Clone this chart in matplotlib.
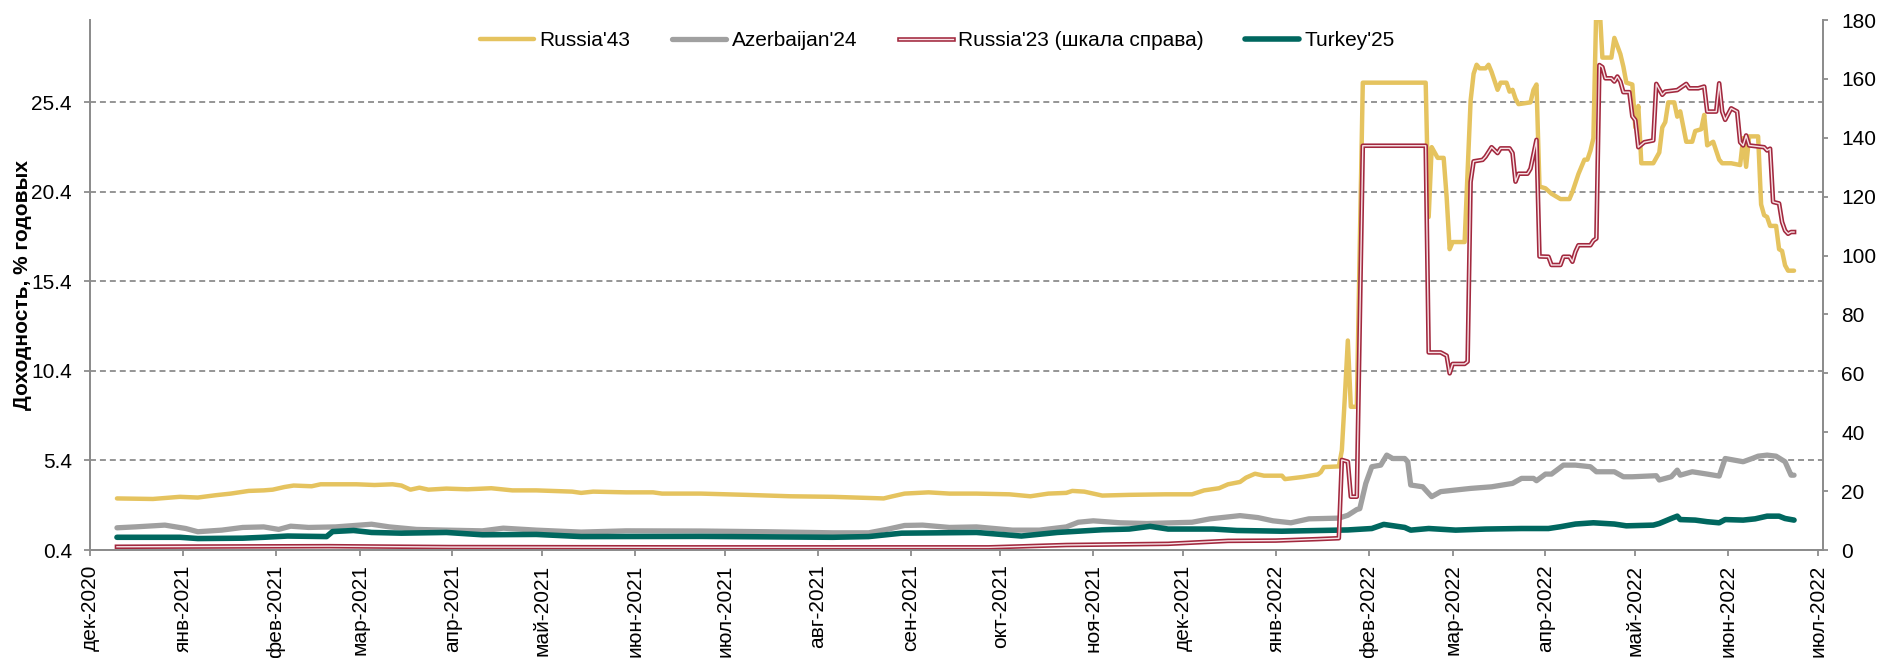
import matplotlib
matplotlib.use('Agg')
import matplotlib.pyplot as plt
import matplotlib.patheffects as pe
import pandas as pd

plt.rcParams['font.family'] = ['Liberation Sans', 'DejaVu Sans']
plt.rcParams['font.size'] = 15

# доходности, левая шкала (% годовых)
russia43 = [
    ('2020-12-10', 3.28), ('2020-12-22', 3.25), ('2020-12-31', 3.37), ('2021-01-06', 3.33),
    ('2021-01-12', 3.46), ('2021-01-17', 3.55), ('2021-01-23', 3.70), ('2021-01-28', 3.73),
    ('2021-01-31', 3.77), ('2021-02-04', 3.92), ('2021-02-07', 4.00), ('2021-02-13', 3.96),
    ('2021-02-16', 4.07), ('2021-02-28', 4.07), ('2021-03-06', 4.03), ('2021-03-12', 4.07),
    ('2021-03-15', 4.00), ('2021-03-18', 3.77), ('2021-03-21', 3.88), ('2021-03-24', 3.77),
    ('2021-03-30', 3.83), ('2021-04-06', 3.79), ('2021-04-14', 3.85), ('2021-04-21', 3.73),
    ('2021-04-29', 3.73), ('2021-05-11', 3.66), ('2021-05-14', 3.59), ('2021-05-18', 3.66),
    ('2021-05-29', 3.62), ('2021-06-07', 3.62), ('2021-06-10', 3.55), ('2021-06-23', 3.55),
    ('2021-07-08', 3.48), ('2021-07-23', 3.40), ('2021-08-06', 3.37), ('2021-08-18', 3.31),
    ('2021-08-23', 3.28), ('2021-08-26', 3.40), ('2021-08-30', 3.55), ('2021-09-07', 3.62),
    ('2021-09-14', 3.55), ('2021-09-23', 3.55), ('2021-10-04', 3.51), ('2021-10-11', 3.40),
    ('2021-10-17', 3.55), ('2021-10-23', 3.59), ('2021-10-25', 3.70), ('2021-10-29', 3.66),
    ('2021-11-04', 3.44), ('2021-11-13', 3.48), ('2021-11-25', 3.51), ('2021-12-04', 3.51),
    ('2021-12-08', 3.73), ('2021-12-13', 3.85), ('2021-12-16', 4.07), ('2021-12-20', 4.20),
    ('2021-12-22', 4.44), ('2021-12-25', 4.66), ('2021-12-28', 4.55), ('2022-01-03', 4.55),
    ('2022-01-04', 4.36), ('2022-01-10', 4.48), ('2022-01-15', 4.62), ('2022-01-16', 4.75),
    ('2022-01-17', 5.03), ('2022-01-22', 5.07), ('2022-01-23', 5.96), ('2022-01-24', 8.93),
    ('2022-01-25', 12.1), ('2022-01-26', 8.4), ('2022-01-28', 8.4), ('2022-01-30', 26.5),
    ('2022-02-20', 26.5), ('2022-02-21', 19.0), ('2022-02-22', 22.9), ('2022-02-24', 22.3),
    ('2022-02-26', 22.3), ('2022-02-27', 20.1), ('2022-02-28', 17.2), ('2022-03-01', 17.6),
    ('2022-03-05', 17.6), ('2022-03-06', 21.5), ('2022-03-07', 25.5), ('2022-03-08', 27.0),
    ('2022-03-09', 27.5), ('2022-03-10', 27.3), ('2022-03-12', 27.3), ('2022-03-13', 27.5),
    ('2022-03-14', 27.1), ('2022-03-16', 26.1), ('2022-03-17', 26.5), ('2022-03-19', 26.5),
    ('2022-03-20', 26.0), ('2022-03-21', 26.1), ('2022-03-22', 25.6), ('2022-03-23', 25.3),
    ('2022-03-27', 25.4), ('2022-03-28', 26.1), ('2022-03-29', 26.4), ('2022-03-30', 20.7),
    ('2022-04-01', 20.6), ('2022-04-03', 20.3), ('2022-04-04', 20.2), ('2022-04-06', 20.0),
    ('2022-04-09', 20.0), ('2022-04-10', 20.4), ('2022-04-11', 20.9), ('2022-04-12', 21.4),
    ('2022-04-14', 22.2), ('2022-04-15', 22.2), ('2022-04-16', 22.7), ('2022-04-17', 23.4),
    ('2022-04-18', 31.0), ('2022-04-19', 31.0), ('2022-04-20', 27.9), ('2022-04-23', 27.9),
    ('2022-04-24', 29.0), ('2022-04-26', 28.1), ('2022-04-27', 27.4), ('2022-04-28', 26.5),
    ('2022-04-30', 26.4), ('2022-05-01', 24.0), ('2022-05-02', 25.2), ('2022-05-03', 22.0),
    ('2022-05-07', 22.0), ('2022-05-09', 22.6), ('2022-05-10', 24.0), ('2022-05-11', 24.3),
    ('2022-05-12', 25.4), ('2022-05-14', 25.4), ('2022-05-15', 24.6), ('2022-05-16', 24.9),
    ('2022-05-18', 23.2), ('2022-05-20', 23.2), ('2022-05-21', 23.8), ('2022-05-23', 23.9),
    ('2022-05-24', 24.7), ('2022-05-25', 23.0), ('2022-05-27', 23.2), ('2022-05-29', 22.2),
    ('2022-05-30', 22.0), ('2022-06-02', 22.0), ('2022-06-05', 21.9), ('2022-06-06', 23.4),
    ('2022-06-07', 21.8), ('2022-06-08', 23.5), ('2022-06-11', 23.5), ('2022-06-12', 19.7),
    ('2022-06-13', 19.1), ('2022-06-14', 19.0), ('2022-06-15', 18.5), ('2022-06-17', 18.5),
    ('2022-06-18', 17.2), ('2022-06-19', 17.1), ('2022-06-20', 16.3), ('2022-06-21', 16.0),
    ('2022-06-23', 16.0),
]

azerbaijan24 = [
    ('2020-12-10', 1.64), ('2020-12-16', 1.69), ('2020-12-26', 1.79), ('2021-01-02', 1.60),
    ('2021-01-06', 1.42), ('2021-01-14', 1.51), ('2021-01-21', 1.66), ('2021-01-28', 1.69),
    ('2021-02-02', 1.55), ('2021-02-06', 1.73), ('2021-02-12', 1.66), ('2021-02-21', 1.69),
    ('2021-03-05', 1.84), ('2021-03-11', 1.69), ('2021-03-20', 1.55), ('2021-03-30', 1.51),
    ('2021-04-11', 1.47), ('2021-04-18', 1.62), ('2021-04-29', 1.51), ('2021-05-14', 1.40),
    ('2021-05-29', 1.47), ('2021-06-23', 1.46), ('2021-07-15', 1.42), ('2021-08-06', 1.36),
    ('2021-08-18', 1.36), ('2021-08-24', 1.55), ('2021-08-30', 1.77), ('2021-09-05', 1.79),
    ('2021-09-14', 1.66), ('2021-09-23', 1.69), ('2021-10-05', 1.51), ('2021-10-14', 1.51),
    ('2021-10-23', 1.69), ('2021-10-27', 1.95), ('2021-11-01', 2.03), ('2021-11-10', 1.92),
    ('2021-11-19', 1.88), ('2021-12-04', 1.95), ('2021-12-10', 2.14), ('2021-12-20', 2.32),
    ('2021-12-26', 2.21), ('2021-12-31', 2.03), ('2022-01-06', 1.92), ('2022-01-12', 2.14),
    ('2022-01-22', 2.18), ('2022-01-25', 2.34), ('2022-01-28', 2.66), ('2022-01-29', 2.71),
    ('2022-01-31', 4.12), ('2022-02-02', 5.05), ('2022-02-05', 5.14), ('2022-02-07', 5.70),
    ('2022-02-09', 5.51), ('2022-02-13', 5.51), ('2022-02-14', 5.33), ('2022-02-15', 4.03),
    ('2022-02-19', 3.93), ('2022-02-21', 3.56), ('2022-02-22', 3.38), ('2022-02-25', 3.66),
    ('2022-03-02', 3.75), ('2022-03-07', 3.84), ('2022-03-14', 3.93), ('2022-03-21', 4.12),
    ('2022-03-24', 4.40), ('2022-03-28', 4.40), ('2022-03-29', 4.27), ('2022-04-01', 4.64),
    ('2022-04-03', 4.64), ('2022-04-07', 5.14), ('2022-04-11', 5.14), ('2022-04-16', 5.05),
    ('2022-04-18', 4.77), ('2022-04-24', 4.77), ('2022-04-27', 4.49), ('2022-04-30', 4.49),
    ('2022-05-08', 4.55), ('2022-05-09', 4.31), ('2022-05-13', 4.49), ('2022-05-15', 4.86),
    ('2022-05-16', 4.58), ('2022-05-20', 4.77), ('2022-05-25', 4.64), ('2022-05-29', 4.53),
    ('2022-05-31', 5.51), ('2022-06-03', 5.42), ('2022-06-06', 5.33), ('2022-06-09', 5.51),
    ('2022-06-11', 5.64), ('2022-06-14', 5.70), ('2022-06-17', 5.64), ('2022-06-20', 5.33),
    ('2022-06-22', 4.58), ('2022-06-23', 4.58),
]

turkey25 = [
    ('2020-12-10', 1.11), ('2020-12-31', 1.11), ('2021-01-06', 1.04), ('2021-01-21', 1.06),
    ('2021-01-28', 1.11), ('2021-02-05', 1.18), ('2021-02-18', 1.15), ('2021-02-20', 1.43),
    ('2021-02-27', 1.49), ('2021-03-05', 1.38), ('2021-03-15', 1.34), ('2021-03-30', 1.38),
    ('2021-04-11', 1.25), ('2021-04-29', 1.27), ('2021-05-14', 1.15), ('2021-06-23', 1.16),
    ('2021-08-06', 1.11), ('2021-08-18', 1.15), ('2021-08-29', 1.34), ('2021-09-23', 1.38),
    ('2021-10-08', 1.18), ('2021-10-20', 1.38), ('2021-11-04', 1.53), ('2021-11-13', 1.57),
    ('2021-11-20', 1.72), ('2021-11-26', 1.57), ('2021-12-11', 1.57), ('2021-12-19', 1.49),
    ('2022-01-03', 1.45), ('2022-01-25', 1.52), ('2022-02-02', 1.60), ('2022-02-06', 1.83),
    ('2022-02-13', 1.66), ('2022-02-15', 1.51), ('2022-02-21', 1.60), ('2022-03-02', 1.51),
    ('2022-03-12', 1.57), ('2022-03-24', 1.60), ('2022-04-02', 1.60), ('2022-04-06', 1.70),
    ('2022-04-11', 1.85), ('2022-04-17', 1.92), ('2022-04-24', 1.85), ('2022-04-28', 1.75),
    ('2022-05-07', 1.79), ('2022-05-09', 1.88), ('2022-05-13', 2.16), ('2022-05-15', 2.29),
    ('2022-05-16', 2.10), ('2022-05-21', 2.07), ('2022-05-25', 1.98), ('2022-05-29', 1.92),
    ('2022-05-31', 2.10), ('2022-06-06', 2.07), ('2022-06-10', 2.14), ('2022-06-14', 2.29),
    ('2022-06-18', 2.29), ('2022-06-20', 2.16), ('2022-06-23', 2.07),
]

# правая шкала
russia23 = [
    ('2020-12-10', 1.1), ('2021-02-19', 1.3), ('2021-03-31', 1.0), ('2021-06-19', 0.9),
    ('2021-09-27', 0.9), ('2021-10-23', 1.7), ('2021-11-26', 2.1), ('2021-12-16', 3.1),
    ('2022-01-01', 3.2), ('2022-01-15', 3.7), ('2022-01-22', 4.0), ('2022-01-23', 30.6),
    ('2022-01-25', 30.0), ('2022-01-26', 18.1), ('2022-01-28', 18.1), ('2022-01-30', 137.3),
    ('2022-02-20', 137.3), ('2022-02-21', 67.1), ('2022-02-25', 67.1), ('2022-02-27', 66.0),
    ('2022-02-28', 60.0), ('2022-03-01', 63.2), ('2022-03-05', 63.2), ('2022-03-06', 64.0),
    ('2022-03-07', 125.0), ('2022-03-08', 132.0), ('2022-03-11', 132.5), ('2022-03-12', 133.6),
    ('2022-03-14', 136.8), ('2022-03-16', 134.8), ('2022-03-17', 136.4), ('2022-03-20', 136.4),
    ('2022-03-21', 134.8), ('2022-03-22', 125.1), ('2022-03-23', 127.8), ('2022-03-26', 127.8),
    ('2022-03-27', 129.5), ('2022-03-29', 139.3), ('2022-03-30', 99.7), ('2022-04-02', 99.6),
    ('2022-04-03', 96.8), ('2022-04-06', 96.8), ('2022-04-07', 99.6), ('2022-04-09', 99.6),
    ('2022-04-10', 97.9), ('2022-04-11', 101.3), ('2022-04-12', 103.5), ('2022-04-16', 103.5),
    ('2022-04-17', 105.1), ('2022-04-18', 105.8), ('2022-04-19', 164.7), ('2022-04-20', 164.0),
    ('2022-04-21', 160.2), ('2022-04-23', 160.2), ('2022-04-24', 159.1), ('2022-04-25', 160.8),
    ('2022-04-26', 159.1), ('2022-04-27', 155.5), ('2022-04-29', 155.5), ('2022-04-30', 147.3),
    ('2022-05-01', 146.0), ('2022-05-02', 136.8), ('2022-05-04', 138.5), ('2022-05-07', 139.1),
    ('2022-05-08', 158.3), ('2022-05-10', 154.6), ('2022-05-11', 155.7), ('2022-05-15', 156.2),
    ('2022-05-18', 158.3), ('2022-05-19', 156.8), ('2022-05-22', 156.8), ('2022-05-24', 157.4),
    ('2022-05-25', 148.9), ('2022-05-28', 148.9), ('2022-05-29', 158.5), ('2022-05-30', 148.9),
    ('2022-05-31', 146.1), ('2022-06-02', 150.0), ('2022-06-04', 148.9), ('2022-06-05', 138.5),
    ('2022-06-06', 137.4), ('2022-06-07', 140.8), ('2022-06-08', 137.4), ('2022-06-13', 136.8),
    ('2022-06-14', 135.7), ('2022-06-15', 136.3), ('2022-06-16', 118.2), ('2022-06-18', 117.7),
    ('2022-06-19', 111.4), ('2022-06-20', 108.5), ('2022-06-21', 107.4), ('2022-06-22', 108.0),
    ('2022-06-23', 108.0),
]

left_ticks = [0.4, 5.4, 10.4, 15.4, 20.4, 25.4]
right_ticks = [0, 20, 40, 60, 80, 100, 120, 140, 160, 180]
ru_months = ['янв', 'фев', 'мар', 'апр', 'май', 'июн',
             'июл', 'авг', 'сен', 'окт', 'ноя', 'дек']


def xy(points):
    d, v = zip(*points)
    return pd.to_datetime(list(d)), list(v)


axis_col = '#8C8C8C'

fig = plt.figure(figsize=(18.81, 6.58), dpi=100)
ax = fig.add_axes([0.04785, 0.16413, 0.92105, 0.80547])
ax2 = ax.twinx()

l1, = ax.plot(*xy(russia43), color='#E5C35F', lw=3.2, solid_capstyle='round',
              solid_joinstyle='round', label="Russia'43")
l2, = ax.plot(*xy(azerbaijan24), color='#A0A0A0', lw=3.8, solid_capstyle='round',
              solid_joinstyle='round', label="Azerbaijan'24")
l4, = ax.plot(*xy(turkey25), color='#00675F', lw=4.0, solid_capstyle='round',
              solid_joinstyle='round', label="Turkey'25")
l3, = ax2.plot(*xy(russia23), color='#F8E4E8', lw=1.0, solid_joinstyle='round',
               label="Russia'23 (шкала справа)",
               path_effects=[pe.Stroke(linewidth=3.3, foreground='#A2283E'), pe.Normal()])

ax.set_xlim(pd.Timestamp('2020-12-01'), pd.Timestamp('2022-07-02 12:00'))
ax.set_ylim(0.4, 30.0)
ax2.set_ylim(0, 180)

month_ticks = pd.date_range('2020-12-01', '2022-07-01', freq='MS')
ax.set_xticks(month_ticks)
ax.set_xticklabels([f'{ru_months[t.month - 1]}-{t.year}' for t in month_ticks], rotation=90)
ax.set_yticks(left_ticks)
ax.set_yticklabels([f'{v:.1f}' for v in left_ticks])
ax2.set_yticks(right_ticks)

ax.yaxis.grid(True, color=axis_col, linestyle=(0, (3.3, 2.2)), linewidth=1.3)
ax.tick_params(axis='x', length=4.5, width=1.3, color=axis_col, pad=6)
ax.tick_params(axis='y', length=4.5, width=1.3, color=axis_col, pad=8.5)
ax2.tick_params(axis='y', length=3.5, width=1.3, color=axis_col, pad=10)

for a in (ax, ax2):
    a.spines['top'].set_visible(False)
    for s in ('left', 'right', 'bottom'):
        a.spines[s].set_color(axis_col)
        a.spines[s].set_linewidth(1.3)

fig.text(0.0121, 0.5669, 'Доходность, % годовых', rotation=90, ha='center',
         va='center', fontweight='bold', fontsize=15)

fig.legend(handles=[l1, l2, l3, l4], loc='center', bbox_to_anchor=(0.4984, 0.9377),
           ncol=4, frameon=False, handlelength=2.6, handletextpad=0.25,
           columnspacing=2.0, fontsize=15)

fig.savefig('out.png', dpi=100)
